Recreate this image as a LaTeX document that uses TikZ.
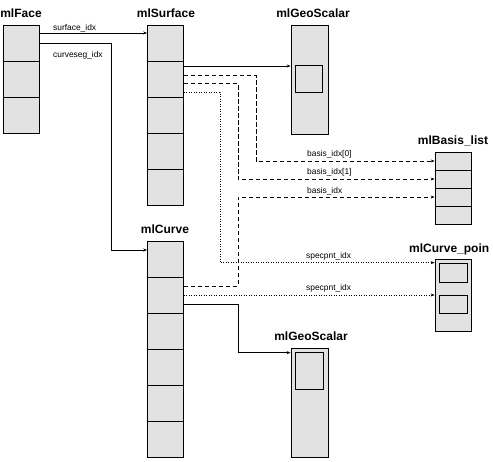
\documentclass[tikz,border=0pt]{standalone}
\usepackage{fontspec}
\setmainfont{Liberation Sans}
\usetikzlibrary{arrows.meta,calc}
\definecolor{boxgray}{RGB}{226,226,226}
\tikzset{
  cell/.style={draw, fill=boxgray, minimum width=36pt, minimum height=36pt, inner sep=0pt, line width=0.7pt},
  title/.style={font=\fontsize{12}{13}\selectfont\bfseries, anchor=base, inner sep=0pt},
  lbl/.style={font=\fontsize{8.4}{9}\selectfont, anchor=base west, inner sep=0pt},
  conn/.style={line width=0.7pt, -{Stealth[length=4pt,width=3pt]}},
  dsh/.style={dash pattern=on 4.5pt off 2.5pt},
  dtt/.style={dash pattern=on 1pt off 1.5pt}
}
\begin{document}
\begin{tikzpicture}[x=1pt,y=-1pt]
\useasboundingbox[fill=white] (0,0) rectangle (493,461);
% titles
\node[title] (tface) at (21,17) {mlFace};
\node[title] (tsurf) at (166,17) {mlSurface};
\node[title] (tgeo1) at (313,17) {mlGeoScalar};
\node[title] (tbas) at (453,144) {mlBasis\_list};
\node[title] (tcurve) at (165,233) {mlCurve};
\node[title,anchor=base west] (tcp) at (409,252) {mlCurve\_poin};
\node[title] (tgeo2) at (311,340) {mlGeoScalar};
% mlFace
\node[cell] (f1) at (21,43) {};
\node[cell] (f2) at (21,79) {};
\node[cell] (f3) at (21,115) {};
% mlSurface
\node[cell] (s1) at (165.5,43) {};
\node[cell] (s2) at (165.5,79) {};
\node[cell] (s3) at (165.5,115) {};
\node[cell] (s4) at (165.5,151) {};
\node[cell] (s5) at (165.5,187) {};
% mlCurve
\node[cell] (c1) at (165.5,259) {};
\node[cell] (c2) at (165.5,295) {};
\node[cell] (c3) at (165.5,331) {};
\node[cell] (c4) at (165.5,367) {};
\node[cell] (c5) at (165.5,403) {};
\node[cell] (c6) at (165.5,439) {};
% mlGeoScalar top
\node[cell, minimum width=37pt, minimum height=109pt] (g1) at (309.5,79.5) {};
\node[cell, minimum width=27pt, minimum height=27pt] (g1i) at (308.5,78.5) {};
% mlBasis_list
\node[cell, minimum height=18pt] (b1) at (453,161) {};
\node[cell, minimum height=18pt] (b2) at (453,179) {};
\node[cell, minimum height=18pt] (b3) at (453,197) {};
\node[cell, minimum height=18pt] (b4) at (453,215) {};
% mlCurve_poin
\node[cell, minimum height=72pt] (cp) at (453,295) {};
\node[cell, minimum width=28pt, minimum height=19pt] (cp1) at (453,272.5) {};
\node[cell, minimum width=28pt, minimum height=18pt] (cp2) at (453,304) {};
% mlGeoScalar bottom
\node[cell, minimum width=37pt, minimum height=109pt] (g2) at (309.5,402.5) {};
\node[cell, minimum width=28pt, minimum height=37pt] (g2i) at (309,370.5) {};
% connectors
\draw[conn] ([yshift=10pt]f1.east) -- ([yshift=10pt]s1.west);
\node[lbl] (lsurf) at (53,30) {surface\_idx};
\draw[conn] (f1.east) -- ++(72,0) |- ([yshift=9pt]c1.west);
\node[lbl] (lcseg) at (53,57) {curveseg\_idx};
\draw[conn] ([yshift=13pt]s2.east) -- ([yshift=13pt]s2.east -| g1.west);
\draw[conn,dsh] ([yshift=4pt]s2.east) -- ++(72,0) |- (b1.west);
\node[lbl] (lb0) at (307,156) {basis\_idx[0]};
\draw[conn,dsh] ([yshift=-4pt]s2.east) -- ++(54,0) |- (b2.west);
\node[lbl] (lb1) at (307,174) {basis\_idx[1]};
\draw[conn,dtt] ([yshift=-13pt]s2.east) -- ++(36,0) |- ([yshift=-4pt]cp.north west);
\node[lbl] (ls1) at (306,258) {specpnt\_idx};
\draw[conn,dsh] ([yshift=9pt]c2.east) -- ++(54,0) |- (b3.west);
\node[lbl] (lb) at (307,193) {basis\_idx};
\draw[conn,dtt] (c2.east) -- (c2.east -| cp.west);
\node[lbl] (ls2) at (306,290) {specpnt\_idx};
\draw[conn] ([yshift=-9pt]c2.east) -- ++(54,0) |- ([yshift=-5pt]g2.north west);
\end{tikzpicture}
\end{document}
